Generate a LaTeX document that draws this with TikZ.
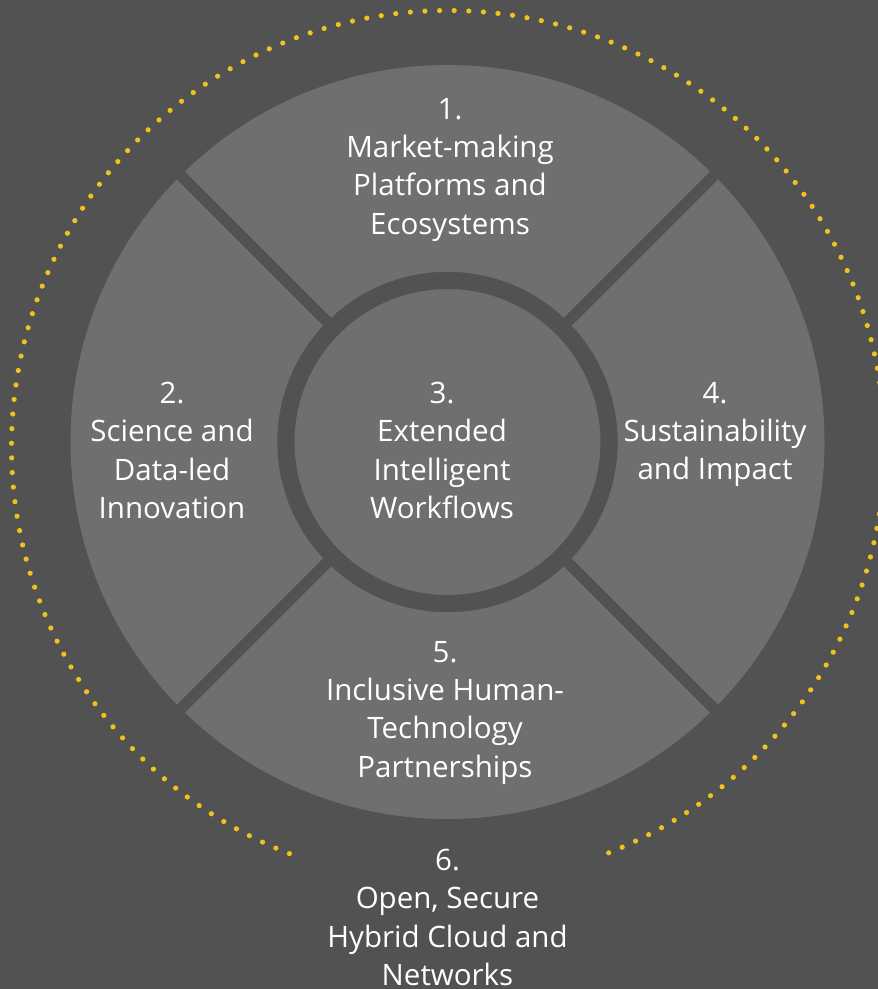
\documentclass[tikz,border=0pt]{standalone}
\usepackage{fontspec}
\setmainfont{Open Sans}
\usepackage{xcolor}
\usepackage{tikz}
\usetikzlibrary{positioning}

\definecolor{bgc}{HTML}{525252}
\definecolor{diskc}{HTML}{6F6F6F}
\definecolor{dotc}{HTML}{F1C21B}

\begin{document}
\begin{tikzpicture}[x=1pt,y=1pt,
  disk/.style={circle, fill=diskc, inner sep=0pt, minimum size=754pt},
  hub/.style={circle, fill=diskc, draw=bgc, line width=17pt, inner sep=0pt, minimum size=323pt},
  sep/.style={draw=bgc, line width=11pt},
  blurb/.style={text=white, align=center, inner sep=0pt, anchor=north,
    font=\fontsize{29.5}{38.3}\selectfont}]
\fill[bgc] (0,0) rectangle (878,989);
\useasboundingbox (0,0) rectangle (878,989);
% dotted ring, open at the bottom
\coordinate (ring) at (448,542);
\foreach \k in {0,...,165} {
  \pgfmathsetmacro{\a}{291.6+1.9218*\k}
  \fill[dotc, shift={(ring)}] (\a:436.5) circle (2.6);
}
\node[disk] (disk) at (447.5,547) {};
\node[hub] (hub) at (447.5,547) {};
\foreach \d in {north west,north east,south west,south east}
  \draw[sep] (hub.\d) -- (disk.\d);
\node[hub] at (hub) {};
\node[blurb] (market) at (450,891) {1.\\Market-making\\Platforms and\\Ecosystems};
\node[blurb] (science) at (172,607) {2.\\Science and\\Data-led\\Innovation};
\node[blurb] (workflows) at (442,607) {3.\\Extended\\Intelligent\\Workflows};
\node[blurb] (impact) at (715,607) {4.\\Sustainability\\and Impact};
\node[blurb] (partners) at (445,348) {5.\\Inclusive Human-\\Technology\\Partnerships};
\node[blurb] (cloud) at (447.5,140) {6.\\Open, Secure\\Hybrid Cloud and\\Networks};
\end{tikzpicture}
\end{document}
